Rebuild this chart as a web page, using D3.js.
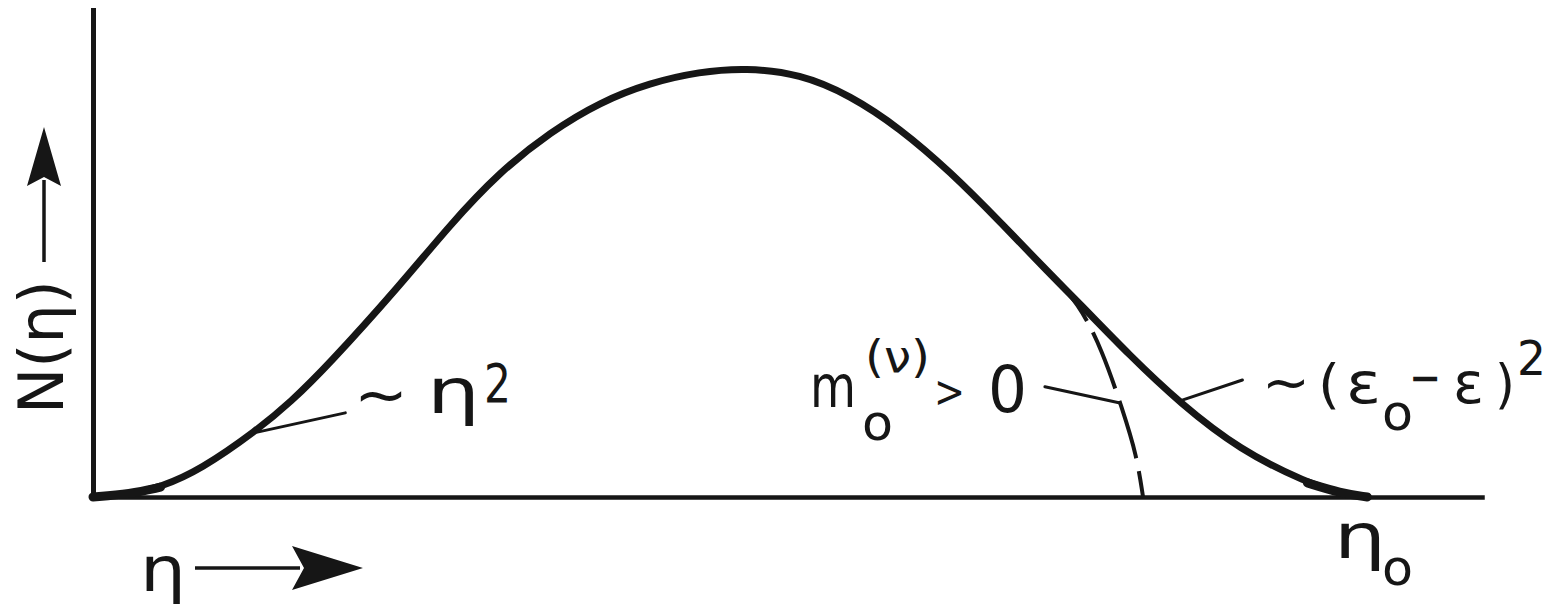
<!DOCTYPE html>
<html>
<head>
<meta charset="utf-8">
<script src="https://cdn.jsdelivr.net/npm/d3@7"></script>
<style>
  body { margin: 0; background: #fff; }
  svg { display: block; }
  text { font-family: "DejaVu Sans", sans-serif; fill: #161616; }
  .axis path { stroke: #161616; stroke-linecap: square; }
</style>
</head>
<body>
<svg id="chart" width="1558" height="612"></svg>
<script>
/*** DATA ***/
// main curve N(eta); eta in units of eta0, N relative to the maximum
const etaMain = [0, 0.029, 0.053, 0.084, 0.129, 0.155, 0.184, 0.241, 0.280, 0.319, 0.359,
                 0.398, 0.437, 0.476, 0.512, 0.555, 0.594, 0.633, 0.673, 0.712, 0.751,
                 0.773, 0.814, 0.853, 0.900, 0.953, 0.979, 1.0];
const nMain   = [0, 0.007, 0.023, 0.063, 0.157, 0.222, 0.307, 0.496, 0.637, 0.761, 0.855,
                 0.925, 0.970, 0.996, 1.005, 0.991, 0.941, 0.864, 0.761, 0.644, 0.522,
                 0.457, 0.330, 0.220, 0.110, 0.033, 0.009, 0];

// dashed branch for m0 > 0
const etaDash = [0.751, 0.773, 0.792, 0.808, 0.819, 0.824];
const nDash   = [0.522, 0.457, 0.344, 0.204, 0.098, 0];

// leader lines [eta1, N1, eta2, N2]
const leaders = [
  [0.129, 0.152, 0.198, 0.197],   // ~ eta^2
  [0.747, 0.258, 0.806, 0.220],   // m0 > 0
  [0.853, 0.225, 0.902, 0.274]    // ~ (eps0 - eps)^2
];

/*** DIMENSIONS ***/
const x = d3.scaleLinear().domain([0, 1.09]).range([93, 1482]);
const y = d3.scaleLinear().domain([0, 1.1405]).range([497, 10]);
const ink = '#161616';

const svg = d3.select('#chart');

/*** AXES (plain lines, no ticks) ***/
svg.append('g').attr('class', 'axis')
    .attr('transform', `translate(0,${y(0)})`)
    .call(d3.axisBottom(x).ticks(0).tickSizeOuter(0))
    .select('.domain').attr('stroke-width', 4.5);

svg.append('g').attr('class', 'axis')
    .attr('transform', `translate(${x(0)},0)`)
    .call(d3.axisLeft(y).ticks(0).tickSizeOuter(0))
    .select('.domain').attr('stroke-width', 5);

/*** CURVES ***/
const line = d3.line()
    .x(d => x(d[0]))
    .y(d => y(d[1]))
    .curve(d3.curveBasis);

const mainPts = etaMain.map((e, i) => [e, nMain[i]]);

svg.append('path')
    .datum(mainPts)
    .attr('fill', 'none')
    .attr('stroke', ink)
    .attr('stroke-width', 7)
    .attr('stroke-linecap', 'round')
    .attr('d', line);

// heavier ink where the curve runs into the axis
[mainPts.slice(0, 3), mainPts.slice(-3)].forEach(seg => {
  svg.append('path')
      .datum(seg)
      .attr('fill', 'none')
      .attr('stroke', ink)
      .attr('stroke-width', 9)
      .attr('stroke-linecap', 'round')
      .attr('d', line);
});

svg.append('path')
    .datum(etaDash.map((e, i) => [e, nDash[i]]))
    .attr('fill', 'none')
    .attr('stroke', ink)
    .attr('stroke-width', 4)
    .attr('stroke-dasharray', '60 13')
    .attr('d', line);

svg.selectAll('line.leader')
  .data(leaders)
  .enter().append('line')
    .attr('class', 'leader')
    .attr('x1', d => x(d[0])).attr('y1', d => y(d[1]))
    .attr('x2', d => x(d[2])).attr('y2', d => y(d[3]))
    .attr('stroke', ink)
    .attr('stroke-width', 3)
    .attr('stroke-linecap', 'round');

/*** LABELS ***/
// each glyph group placed and stretched to the hand lettering
function glyph(str, px, base, size, len) {
  return svg.append('text')
      .attr('x', px).attr('y', base)
      .attr('font-size', size)
      .attr('textLength', len)
      .attr('lengthAdjust', 'spacingAndGlyphs')
      .text(str);
}

// ~ eta^2
glyph('~', 354, 416, 60, 54);
glyph('η', 427, 413, 62, 53);
glyph('2', 484, 402, 54, 27);

// m0^(nu) > 0
glyph('m', 810, 407, 58, 46);
glyph('o', 862, 440, 50, 31);
glyph('(ν)', 865, 372, 44, 65);
glyph('>', 934, 407, 44, 31);
glyph('0', 988, 412, 64, 39);

// ~ (eps0 - eps)^2
glyph('~', 1262, 401, 56, 48);
glyph('(', 1318, 403, 54, 22);
glyph('ε', 1346, 403, 57, 35);
glyph('o', 1382, 430, 50, 31);
glyph('−', 1409, 396, 54, 32);
glyph('ε', 1453, 403, 57, 31);
glyph(')', 1495, 403, 54, 20);
glyph('2', 1517, 375, 48, 29);

// eta0 at the end of the x axis
glyph('η', 1334, 558, 62, 52);
glyph('o', 1382, 585, 50, 31);

// x direction: eta ->
glyph('η', 140, 591, 62, 46);
svg.append('line')
    .attr('x1', 195).attr('y1', 568).attr('x2', 300).attr('y2', 568)
    .attr('stroke', ink).attr('stroke-width', 3.5);
svg.append('path')
    .attr('d', 'M363,568 L292,546 L304,568 L292,590 Z')
    .attr('fill', ink);

// y direction: N(eta) ->
svg.append('text')
    .attr('transform', 'translate(63,414) rotate(-90)')
    .attr('font-size', 63)
    .attr('textLength', 134)
    .attr('lengthAdjust', 'spacingAndGlyphs')
    .text('N(η)');
svg.append('line')
    .attr('x1', 44).attr('y1', 262).attr('x2', 44).attr('y2', 180)
    .attr('stroke', ink).attr('stroke-width', 3.5);
svg.append('path')
    .attr('d', 'M44,127 L61,186 L44,177 L27,186 Z')
    .attr('fill', ink);
</script>
</body>
</html>
